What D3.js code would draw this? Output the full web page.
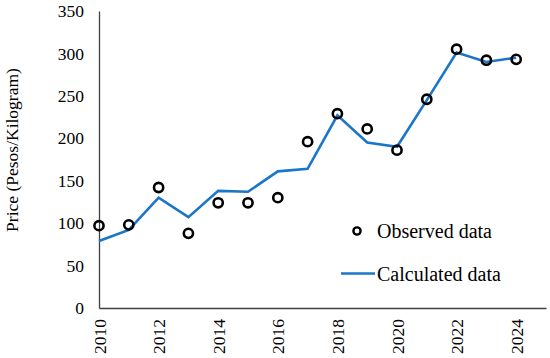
<!DOCTYPE html>
<html><head><meta charset="utf-8">
<script src="https://cdn.jsdelivr.net/npm/d3@7"></script>
<style>body{margin:0;background:#fff}svg{display:block}</style>
</head><body>
<script>
const years = [2010,2011,2012,2013,2014,2015,2016,2017,2018,2019,2020,2021,2022,2023,2024];
const observed = [97,98,142,88,124,124,130,196,229,211,186,246,305,292,293];
const calculated = [79,92,130,107,138,137,161,164,227,195,190,245,301,290,295];
const yTicks = [0,50,100,150,200,250,300,350];
const xTicks = [2010,2012,2014,2016,2018,2020,2022,2024];

const W=550,H=358;
const svg=d3.select("body").append("svg").attr("width",W).attr("height",H);
const x=d3.scaleLinear().domain([2010,2025]).range([99,546]);
const y=d3.scaleLinear().domain([0,350]).range([308,11]);
const font="'Liberation Serif','Times New Roman',serif";
const axisCol="#404040";

const ya=svg.append("g").attr("transform","translate(99,0)")
  .call(d3.axisLeft(y).tickValues(yTicks).tickSize(0).tickPadding(15));
ya.select(".domain").attr("stroke",axisCol).attr("stroke-width",1.3);
ya.selectAll("text").attr("font-family",font).attr("font-size",17.5).attr("fill","#000");

const xa=svg.append("g").attr("transform","translate(0,308)")
  .call(d3.axisBottom(x).tickValues(xTicks).tickFormat(d3.format("d")).tickSize(0));
xa.select(".domain").attr("stroke",axisCol).attr("stroke-width",1.3);
xa.selectAll("text").attr("font-family",font).attr("font-size",17.5).attr("fill","#000")
  .attr("transform","rotate(-90)").attr("text-anchor","end").attr("dx","-11").attr("dy","0.35em").attr("y",0);

svg.append("text").attr("transform","translate(18,150) rotate(-90)")
  .attr("text-anchor","middle").attr("font-family",font).attr("font-size",17.5).attr("fill","#000")
  .text("Price (Pesos/Kilogram)");

const blue="#1B75C9";
svg.append("path").datum(years.map((d,i)=>[d,calculated[i]]))
  .attr("fill","none").attr("stroke",blue).attr("stroke-width",2.6)
  .attr("d",d3.line().x(d=>x(d[0])).y(d=>y(d[1])));

svg.selectAll("circle.obs").data(years.map((d,i)=>[d,observed[i]])).enter().append("circle")
  .attr("cx",d=>x(d[0])).attr("cy",d=>y(d[1])).attr("r",4.6)
  .attr("fill","none").attr("stroke","#000").attr("stroke-width",2.6);

svg.append("circle").attr("cx",357).attr("cy",231).attr("r",3.6).attr("fill","none").attr("stroke","#000").attr("stroke-width",2.4);
svg.append("text").attr("x",377).attr("y",238).attr("font-family",font).attr("font-size",20).text("Observed data");
svg.append("line").attr("x1",341).attr("x2",375).attr("y1",273.5).attr("y2",273.5).attr("stroke",blue).attr("stroke-width",2.6);
svg.append("text").attr("x",377).attr("y",280.5).attr("font-family",font).attr("font-size",20).text("Calculated data");
</script>
</body></html>
